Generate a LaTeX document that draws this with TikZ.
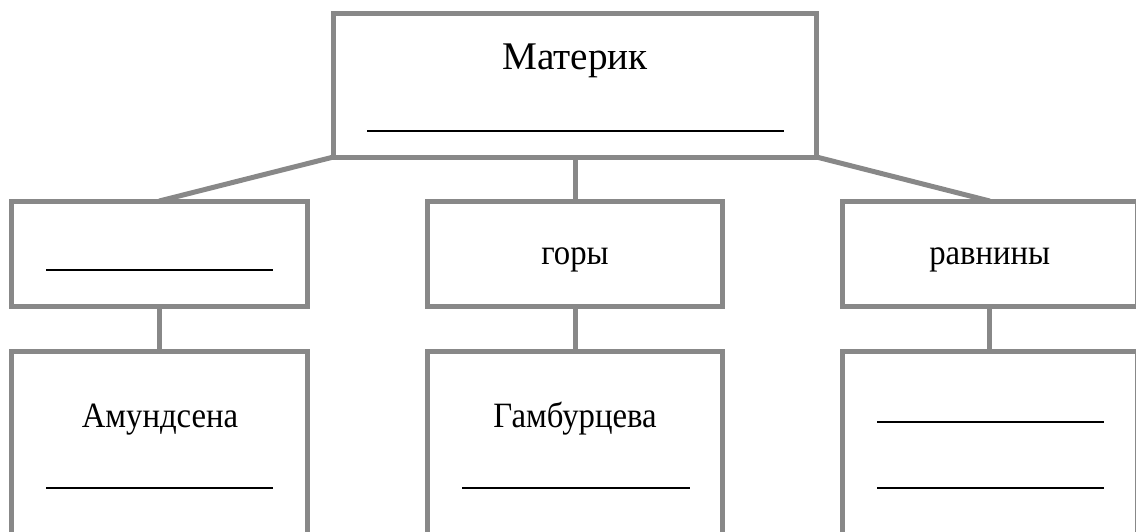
\documentclass[tikz,border=0pt]{standalone}
\usepackage{fontspec}
\setmainfont{Liberation Serif}
\newfontfamily\narrowserif[FakeStretch=0.92]{Liberation Serif}
\definecolor{boxgray}{RGB}{136,136,136}
\tikzset{
  box/.style={rectangle, draw=boxgray, line width=2.5pt, inner sep=0pt, outer sep=0pt},
  link/.style={draw=boxgray, line width=2.5pt},
  blank/.style={line width=1pt},
  label/.style={anchor=base, inner sep=0pt, font=\narrowserif\fontsize{17.8}{20}\selectfont},
}
\begin{document}
\begin{tikzpicture}[x=0.5pt, y=-0.5pt]
        \clip (0, 0) rectangle (1136, 531);

        \node[box, minimum width=241.5pt, minimum height=72pt] (top) at (575, 85) {};
        \node[box, minimum width=147.75pt, minimum height=52.5pt] (midl) at (159.25, 253.5) {};
        \node[box, minimum width=147.75pt, minimum height=52.5pt] (midc) at (575, 253.5) {};
        \node[box, minimum width=147.75pt, minimum height=52.5pt] (midr) at (989.75, 253.5) {};
        \node[box, minimum width=147.75pt, minimum height=124.5pt] (lowl) at (159.25, 475.5) {};
        \node[box, minimum width=147.75pt, minimum height=124.5pt] (lowc) at (575, 475.5) {};
        \node[box, minimum width=147.75pt, minimum height=124.5pt] (lowr) at (989.75, 475.5) {};

        \draw[link] (top.south west) -- (midl.north);
        \draw[link] (top.south) -- (midc.north);
        \draw[link] (top.south east) -- (midr.north);
        \draw[link] (midl.south) -- (lowl.north);
        \draw[link] (midc.south) -- (lowc.north);
        \draw[link] (midr.south) -- (lowr.north);

        \node[label, font=\fontsize{19.6}{22}\selectfont] (toptext) at (575, 69) {Материк};
        \node[label] (midctext) at (575, 264) {горы};
        \node[label] (midrtext) at (989.75, 264) {равнины};
        \node[label] (lowltext) at (160, 427) {Амундсена};
        \node[label] (lowctext) at (575, 427) {Гамбурцева};

        \draw[blank] (367, 131) -- (784, 131);
        \draw[blank] (46, 270) -- (273, 270);
        \draw[blank] (46, 488) -- (273, 488);
        \draw[blank] (462, 488) -- (690, 488);
        \draw[blank] (877, 422) -- (1104, 422);
        \draw[blank] (877, 488) -- (1104, 488);
\end{tikzpicture}
\end{document}
